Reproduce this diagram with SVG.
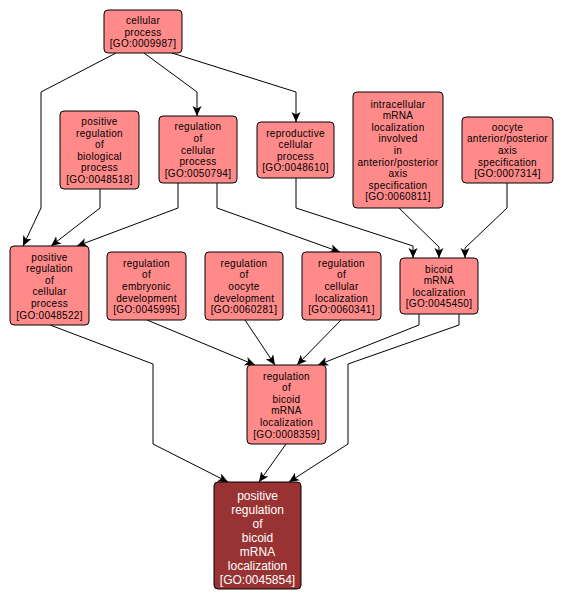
<svg xmlns="http://www.w3.org/2000/svg" width="563" height="602" viewBox="0 0 563 602">
<style>
.n rect{fill:#ff8a8a;stroke:#000;stroke-width:1}
.n text{font-family:"Liberation Sans",Arial,sans-serif;font-size:10px;letter-spacing:0.3px;fill:#000;text-anchor:middle}
.d rect{fill:#993333;stroke:#000;stroke-width:1}
.d text{font-family:"Liberation Sans",Arial,sans-serif;font-size:12px;fill:#fff;text-anchor:middle}
.e path{fill:none;stroke:#000;stroke-width:1;marker-end:url(#a)}
</style>
<defs>
<marker id="a" markerUnits="userSpaceOnUse" markerWidth="11" markerHeight="10" refX="10" refY="4.5" orient="auto">
<path d="M0,0 L10,4.5 L0,9 L2.5,4.5 Z" fill="#000"/>
</marker>
</defs>
<rect width="563" height="602" fill="#fff"/>
<g id="edges" class="e">
<path d="M116,53 L41,92 L41,208 L23,246"/>
<path d="M144,53 L197,92 L197,116"/>
<path d="M172,53 L296,92 L296,122"/>
<path d="M100,189 L100,208 L51,246"/>
<path d="M178,183 L178,208 L77,246"/>
<path d="M217,183 L217,208 L340,252"/>
<path d="M296,178 L296,208 L413,246 L413,258"/>
<path d="M399,208 L439,247 L439,258"/>
<path d="M507,183 L507,208 L465,248 L465,258"/>
<path d="M50,325 L153,364 L153,444 L228,482"/>
<path d="M147,320 L255,365"/>
<path d="M245,320 L275,365"/>
<path d="M341,320 L297,365"/>
<path d="M419,314 L419,325 L318,365"/>
<path d="M459,314 L459,325 L348,364 L348,444 L289,482"/>
<path d="M286,444 L259,482"/>
</g>
<g id="GO0009987" class="n"><rect x="104" y="10" width="78" height="43" rx="4"/>
<text x="143" y="23.9">cellular</text><text x="143" y="35.5">process</text><text x="143" y="47.1">[GO:0009987]</text></g>
<g id="GO0048518" class="n"><rect x="60" y="111" width="79" height="78" rx="4"/>
<text x="99.5" y="125">positive</text><text x="99.5" y="136.6">regulation</text><text x="99.5" y="148.2">of</text><text x="99.5" y="159.8">biological</text><text x="99.5" y="171.4">process</text><text x="99.5" y="183">[GO:0048518]</text></g>
<g id="GO0050794" class="n"><rect x="159" y="116" width="78" height="67" rx="4"/>
<text x="198" y="130.3">regulation</text><text x="198" y="141.9">of</text><text x="198" y="153.5">cellular</text><text x="198" y="165.1">process</text><text x="198" y="176.7">[GO:0050794]</text></g>
<g id="GO0048610" class="n"><rect x="257" y="122" width="77" height="56" rx="4"/>
<text x="295.5" y="136.6">reproductive</text><text x="295.5" y="148.2">cellular</text><text x="295.5" y="159.8">process</text><text x="295.5" y="171.4">[GO:0048610]</text></g>
<g id="GO0060811" class="n"><rect x="353" y="92" width="90" height="116" rx="4"/>
<text x="398" y="107.6">intracellular</text><text x="398" y="119.2">mRNA</text><text x="398" y="130.8">localization</text><text x="398" y="142.4">involved</text><text x="398" y="154">in</text><text x="398" y="165.6">anterior/posterior</text><text x="398" y="177.2">axis</text><text x="398" y="188.8">specification</text><text x="398" y="200.4">[GO:0060811]</text></g>
<g id="GO0007314" class="n"><rect x="462" y="117" width="91" height="66" rx="4"/>
<text x="507.5" y="130.8">oocyte</text><text x="507.5" y="142.4">anterior/posterior</text><text x="507.5" y="154">axis</text><text x="507.5" y="165.6">specification</text><text x="507.5" y="177.2">[GO:0007314]</text></g>
<g id="GO0045450" class="n"><rect x="400" y="258" width="78" height="56" rx="4"/>
<text x="439" y="272.6">bicoid</text><text x="439" y="284.2">mRNA</text><text x="439" y="295.8">localization</text><text x="439" y="307.4">[GO:0045450]</text></g>
<g id="GO0048522" class="n"><rect x="10" y="246" width="79" height="79" rx="4"/>
<text x="49.5" y="260.5">positive</text><text x="49.5" y="272.1">regulation</text><text x="49.5" y="283.7">of</text><text x="49.5" y="295.3">cellular</text><text x="49.5" y="306.9">process</text><text x="49.5" y="318.5">[GO:0048522]</text></g>
<g id="GO0045995" class="n"><rect x="107" y="252" width="79" height="68" rx="4"/>
<text x="146.5" y="266.8">regulation</text><text x="146.5" y="278.4">of</text><text x="146.5" y="290">embryonic</text><text x="146.5" y="301.6">development</text><text x="146.5" y="313.2">[GO:0045995]</text></g>
<g id="GO0060281" class="n"><rect x="205" y="252" width="78" height="68" rx="4"/>
<text x="244" y="266.8">regulation</text><text x="244" y="278.4">of</text><text x="244" y="290">oocyte</text><text x="244" y="301.6">development</text><text x="244" y="313.2">[GO:0060281]</text></g>
<g id="GO0060341" class="n"><rect x="302" y="252" width="79" height="68" rx="4"/>
<text x="341.5" y="266.8">regulation</text><text x="341.5" y="278.4">of</text><text x="341.5" y="290">cellular</text><text x="341.5" y="301.6">localization</text><text x="341.5" y="313.2">[GO:0060341]</text></g>
<g id="GO0008359" class="n"><rect x="247" y="365" width="79" height="79" rx="4"/>
<text x="286.5" y="379.5">regulation</text><text x="286.5" y="391.1">of</text><text x="286.5" y="402.7">bicoid</text><text x="286.5" y="414.3">mRNA</text><text x="286.5" y="425.9">localization</text><text x="286.5" y="437.5">[GO:0008359]</text></g>
<g id="GO0045854" class="d"><rect x="214" y="482" width="87" height="107" rx="4"/>
<text x="257.5" y="499.5">positive</text><text x="257.5" y="513.5">regulation</text><text x="257.5" y="527.5">of</text><text x="257.5" y="541.5">bicoid</text><text x="257.5" y="555.5">mRNA</text><text x="257.5" y="569.5">localization</text><text x="257.5" y="583.5">[GO:0045854]</text></g>
</svg>
